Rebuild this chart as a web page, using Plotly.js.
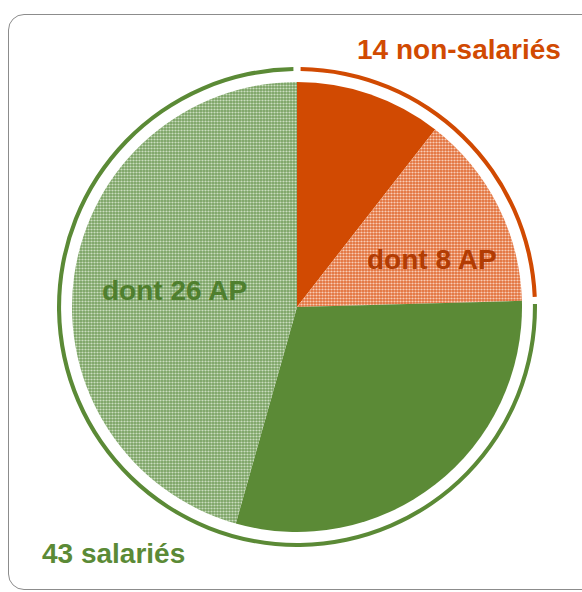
<!DOCTYPE html>
<html>
<head>
<meta charset="utf-8">
<script src="https://cdn.plot.ly/plotly-3.0.1.min.js"></script>
<style>
  html, body { margin: 0; padding: 0; background: #fff; }
  #frame { position: absolute; left: 8px; top: 14px; width: 590px; height: 576px;
           border: 1.5px solid #8c8c8c; border-radius: 16px; box-sizing: border-box; }
  #chart { position: absolute; left: 0; top: 0; width: 582px; height: 592px; }
</style>
</head>
<body>
<div id="frame"></div>
<div id="chart"></div>
<script>
// Data
const sliceLabels = ["non-salariés (hors AP)", "non-salariés dont AP", "salariés (hors AP)", "salariés dont AP"];
const sliceValues = [6, 8, 17, 26];
const groupLabels = ["non-salariés", "salariés"];
const groupValues = [14, 43];
const groupTexts = ["14 non-salariés", "43 salariés"];
const apTexts = ["dont 8 AP", "dont 26 AP"];

const W = 582, H = 592;
const orange = "#D14A02", green = "#5B8A36";

const px = x => x / W, py = y => 1 - y / H;

// center and radii (pixels)
const cx = 297, cy = 307, r = 225, rr = 240;

// outer ring with small gaps
const total = groupValues.reduce((a, b) => a + b, 0);
const gap = total * 0.0048;
const ringValues = [], ringColors = [];
groupValues.forEach((v, i) => {
  ringValues.push(v - gap, gap);
  ringColors.push(i === 0 ? orange : green, "rgba(0,0,0,0)");
});

const pie = {
  type: "pie",
  labels: sliceLabels,
  values: sliceValues,
  sort: false,
  direction: "clockwise",
  rotation: 0,
  textinfo: "none",
  hoverinfo: "label+value",
  showlegend: false,
  domain: { x: [px(cx - r), px(cx + r)], y: [py(cy + r), py(cy - r)] },
  marker: {
    colors: [orange, "#EC9166", green, "#A0BF8C"],
    line: { width: 0 },
    pattern: {
      shape: ["", ".", "", "."],
      fgcolor: ["#fff", "#F8CDB7", "#fff", "#CADDBF"],
      bgcolor: [orange, "#E2703A", green, "#7AA262"],
      size: 3,
      solidity: 0.42
    }
  }
};

const ring = {
  type: "pie",
  labels: ["a", "g1", "b", "g2"],
  values: ringValues,
  sort: false,
  direction: "clockwise",
  rotation: (gap / 2) / total * 360,
  hole: 0.983,
  textinfo: "none",
  hoverinfo: "skip",
  showlegend: false,
  domain: { x: [px(cx - rr), px(cx + rr)], y: [py(cy + rr), py(cy - rr)] },
  marker: { colors: ringColors, line: { width: 0 } }
};

const font = (size, color) => ({ family: "Liberation Sans, Arial, sans-serif", size: size, color: color });

const ann = (txt, x, y, color) => ({
  text: "<b>" + txt + "</b>", x: px(x), y: py(y), xref: "paper", yref: "paper",
  xanchor: "center", yanchor: "middle", showarrow: false, font: font(28, color)
});

const layout = {
  width: W, height: H,
  margin: { l: 0, r: 0, t: 0, b: 0 },
  paper_bgcolor: "rgba(0,0,0,0)",
  plot_bgcolor: "rgba(0,0,0,0)",
  showlegend: false,
  annotations: [
    ann(groupTexts[0], 459, 49, orange),
    ann(groupTexts[1], 113, 553, green),
    ann(apTexts[0], 432, 259, "#B23C03"),
    ann(apTexts[1], 174, 290, "#4F7F2E")
  ]
};

Plotly.newPlot("chart", [ring, pie], layout, { displayModeBar: false, staticPlot: true });
</script>
</body>
</html>
